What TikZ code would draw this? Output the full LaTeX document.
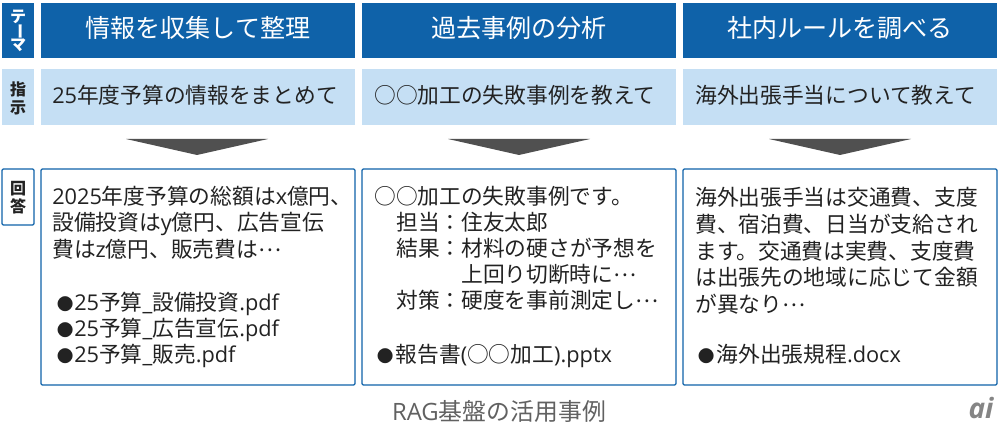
\documentclass[tikz,border=0pt]{standalone}
\usepackage{fontspec}
\usepackage{graphicx}
\setmainfont{Noto Sans CJK JP}
\newfontfamily\latf{Open Sans}
\newcommand\lat[1]{{\latf #1}}
\newcommand\bul{\makebox[16.5pt][l]{\hspace{3.5pt}\fontsize{12.5pt}{14pt}\selectfont ●}}
\newcommand\tdots{\raisebox{0.32em}{…}}
\definecolor{hdblue}{HTML}{0F62A9}
\definecolor{ltblue}{HTML}{C5DFF4}
\definecolor{txt}{HTML}{222222}
\definecolor{arrowgray}{HTML}{505050}
\tikzset{
 px/.style={x=0.75pt,y=-0.75pt},
 hd/.style={font=\fontsize{18.8pt}{20pt}\selectfont,text=white,anchor=center},
 sub/.style={font=\fontsize{16.3pt}{18pt}\selectfont,text=txt,anchor=base west,inner sep=0pt},
 ln/.style={font=\fontsize{16.3pt}{18pt}\selectfont,text=txt,anchor=base west,inner sep=0pt},
 side/.style={font=\bfseries\fontsize{12pt}{14pt}\selectfont,align=center,anchor=center,inner sep=0pt},
 darkbox/.style={fill=hdblue,draw=none},
 lightbox/.style={fill=ltblue,draw=none},
 outl/.style={fill=white,draw=hdblue,line width=0.9pt,rounded corners=1pt},
}
\begin{document}
\begin{tikzpicture}[px]
\useasboundingbox (0,0) rectangle (1000,427);
% theme row
\fill[darkbox] (2,3) rectangle (34,58);
\node[side,text=white] (t0) at (18,17) {テ};
\node[side,text=white,rotate=-90] (t0b) at (18,32) {ー};
\node[side,text=white] (t0c) at (18,45) {マ};
\foreach \a/\b/\n/\s in {41/355/h1/情報を収集して整理,362/676/h2/過去事例の分析,683/997/h3/社内ルールを調べる}{
 \fill[darkbox] (\a,3) rectangle (\b,58);
 \node[hd] (\n) at ({(\a+\b)/2},28) {\s};
}
% instruction row
\fill[lightbox] (2,69) rectangle (34,125);
\node[side,text=txt] (t1) at (18,98) {指\\[-0.5pt]示};
\foreach \a/\b in {41/355,362/676,683/997}{
 \fill[lightbox] (\a,69) rectangle (\b,125);
}
\node[sub] (s1) at (52,104) {\lat{25}年度予算の情報をまとめて};
\node[sub] (s2) at (374,104) {○○加工の失敗事例を教えて};
\node[sub] (s3) at (695,104) {海外出張手当について教えて};
% arrows
\foreach \c in {197,519,840}{
 \fill[arrowgray] (\c-71,139) -- (\c+71,139) -- (\c,155) -- cycle;
}
% answer row
\draw[outl] (2,169) rectangle (34,225);
\node[side,text=txt] (t2) at (18,198) {回\\[-0.5pt]答};
\draw[outl] (41,169) rectangle (355,385);
\draw[outl] (362,169) rectangle (676,385);
\draw[outl] (683,169) rectangle (997,385);
% column 1
\node[ln] (a1) at (52,205) {\lat{2025}年度予算の総額は\lat{x}億円、};
\node[ln] (a2) at (52,231) {設備投資は\lat{y}億円、広告宣伝};
\node[ln] (a3) at (52,258) {費は\lat{z}億円、販売費は\tdots};
\node[ln] (a4) at (52,311) {\bul\lat{25}予算\lat{\_}設備投資\lat{.pdf}};
\node[ln] (a5) at (52,337) {\bul\lat{25}予算\lat{\_}広告宣伝\lat{.pdf}};
\node[ln] (a6) at (52,363) {\bul\lat{25}予算\lat{\_}販売\lat{.pdf}};
% column 2
\node[ln] (b1) at (374,205) {○○加工の失敗事例です。};
\node[ln] (b2) at (396,231) {担当：住友太郎};
\node[ln] (b3) at (396,257) {結果：材料の硬さが予想を};
\node[ln] (b4) at (461,283) {上回り切断時に\tdots};
\node[ln] (b5) at (396,309) {対策：硬度を事前測定し\tdots};
\node[ln] (b6) at (372,363) {\bul\hspace{1pt}報告書\lat{(}○○加工\lat{).pptx}};
% column 3
\node[ln] (c1) at (695,206) {海外出張手当は交通費、支度};
\node[ln] (c2) at (695,233) {費、宿泊費、日当が支給され};
\node[ln] (c3) at (695,260) {ます。交通費は実費、支度費};
\node[ln] (c4) at (695,286) {は出張先の地域に応じて金額};
\node[ln] (c5) at (695,313) {が異なり\tdots};
\node[ln] (c6) at (693,363) {\bul\hspace{1pt}海外出張規程\lat{.docx}};
% caption
\node[font=\fontsize{17.9pt}{19pt}\selectfont,text=black!62,anchor=center] (cap) at (499,411) {\lat{RAG}基盤の活用事例};
\node[font=\latf\itshape\bfseries\fontsize{21pt}{22pt}\selectfont,text=black!48,anchor=center] (logo) at (981,408) {ai};
\end{tikzpicture}
\end{document}
